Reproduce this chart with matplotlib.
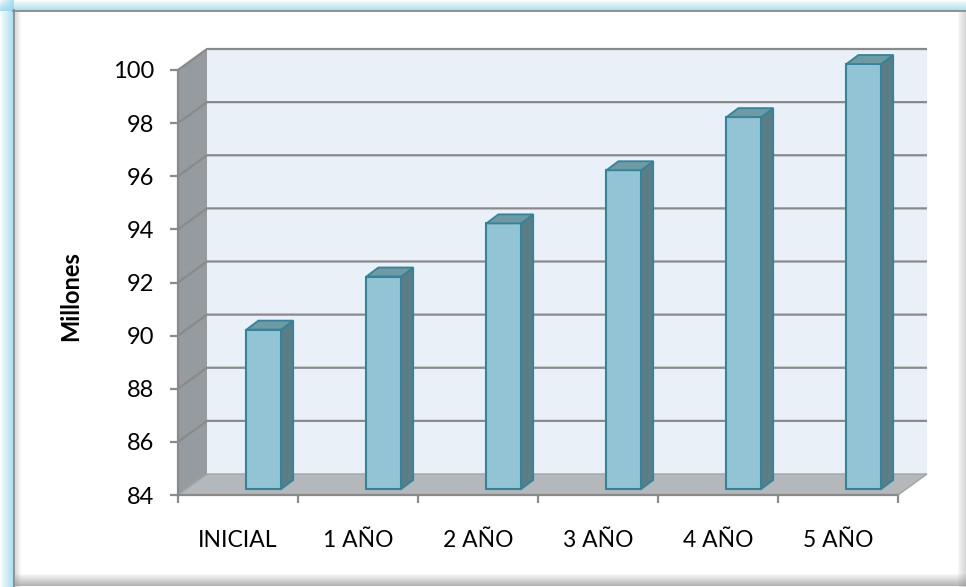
import matplotlib.pyplot as plt
from matplotlib.patches import Polygon
from matplotlib.lines import Line2D
import numpy as np

plt.rcParams['font.family'] = ['Lato', 'DejaVu Sans']

categories = ['INICIAL', '1 AÑO', '2 AÑO', '3 AÑO', '4 AÑO', '5 AÑO']
values = np.array([90, 92, 94, 96, 98, 100])
y_ticks = [84, 86, 88, 90, 92, 94, 96, 98, 100]
y_label = 'Millones'

W, H = 966, 587
fig = plt.figure(figsize=(W / 100, H / 100), dpi=100)
fig.patch.set_facecolor('white')


def hline(y, xa, xb, color, alpha=1.0, lw=0.75):
    fig.add_artist(Line2D([xa / W, xb / W], [1 - y / H, 1 - y / H], transform=fig.transFigure,
                          color=color, alpha=alpha, lw=lw, zorder=-5))


def vline(x, ya, yb, color, alpha=1.0, lw=0.75):
    fig.add_artist(Line2D([x / W, x / W], [1 - ya / H, 1 - yb / H], transform=fig.transFigure,
                          color=color, alpha=alpha, lw=lw, zorder=-5))


# blue glow round the frame (top and left), frame line, inner shadows
for k in range(10):
    hline(k + 0.5, 0, W, '#94daf0', 0.12 + 0.7 * k / 9)
for k in range(13):
    vline(k + 0.5, 0, H, '#94daf0', 0.12 + 0.7 * k / 12)
hline(10.5, 13, W, '#8a8a8a', lw=1.3)
vline(13.5, 10, H, '#8a8a8a', lw=1.3)
for k in range(6):
    vline(15 + k, 12, H, '#9a9a9a', 0.35 * (1 - k / 6))
for k in range(8):
    vline(W - 8 + k, 12, H, '#9a9a9a', 0.08 + 0.35 * k / 8)
for k in range(12):
    hline(H - 13 + k, 15, W, '#8f8f8f', 0.06 + 0.6 * k / 11)

ax = fig.add_axes([178 / W, 1 - 495 / H, 720 / W, 425 / H])
ax.set_xlim(-0.5, 5.5)
ax.set_ylim(84, 100)
ax.set_facecolor('none')

# depth of the walls and bars in data units
dx, dy = 29 / 120, 21 / (425 / 16)
bdx, bdy = 12 / 120, 9 / (425 / 16)
lift = 6 / (425 / 16)
x0, x1 = -0.5, 5.5
y0, y1 = 84, 100

# back wall, side wall, floor
ax.add_patch(Polygon([(x0 + dx, y0 + dy), (x1 + dx, y0 + dy), (x1 + dx, y1 + dy), (x0 + dx, y1 + dy)],
                     closed=True, facecolor='#e9f0f7', edgecolor='none', clip_on=False, zorder=1))
ax.add_patch(Polygon([(x0, y0), (x0 + dx, y0 + dy), (x0 + dx, y1 + dy), (x0, y1)],
                     closed=True, facecolor='#959b9e', edgecolor='none', clip_on=False, zorder=1))
ax.add_patch(Polygon([(x0, y0), (x1, y0), (x1 + dx, y0 + dy), (x0 + dx, y0 + dy)],
                     closed=True, facecolor='#b4b8bb', edgecolor='#a0a4a7', lw=1, clip_on=False, zorder=1))

for v in y_ticks[1:]:
    ax.plot([x0, x0 + dx, x1 + dx], [v, v + dy, v + dy], color='#8a8a8a', lw=1.6,
            clip_on=False, zorder=2, solid_capstyle='butt')

# bars (front face, then side and top faces)
xs = np.arange(len(categories)) + 0.07
bw = 0.29
ax.bar(xs, values - y0, width=bw, bottom=y0 + lift, align='edge',
       color='#93c4d5', edgecolor='#31849b', lw=1.5, zorder=4, clip_on=False)
for x, v in zip(xs, values):
    top = v + lift
    ax.add_patch(Polygon([(x + bw, y0 + lift), (x + bw + bdx, y0 + lift + bdy),
                          (x + bw + bdx, top + bdy), (x + bw, top)],
                         closed=True, facecolor='#5b7d86', edgecolor='#31849b', lw=1.3,
                         clip_on=False, zorder=4))
    ax.add_patch(Polygon([(x, top), (x + bw, top), (x + bw + bdx, top + bdy), (x + bdx, top + bdy)],
                         closed=True, facecolor='#6f99a3', edgecolor='#31849b', lw=1.3,
                         clip_on=False, zorder=4))

for s in ['top', 'right']:
    ax.spines[s].set_visible(False)
for s in ['left', 'bottom']:
    ax.spines[s].set_color('#8a8a8a')
    ax.spines[s].set_linewidth(1.6)
    ax.spines[s].set_zorder(3)

ax.set_yticks(y_ticks)
ax.set_yticklabels([str(t) for t in y_ticks])
ax.set_xticks(np.arange(-0.5, 6, 1))
ax.set_xticklabels([])
ax.set_xticks(np.arange(len(categories)), minor=True)
ax.set_xticklabels(categories, minor=True)
ax.tick_params(axis='x', which='major', length=6, width=1.6, color='#8a8a8a')
ax.tick_params(axis='x', which='minor', length=0, pad=25, labelsize=16.5)
ax.tick_params(axis='y', length=6, width=1.6, color='#8a8a8a', labelsize=17, pad=11)

fig.text(71 / W, 1 - 296 / H, y_label, rotation=90, fontsize=17, fontweight='bold',
         ha='center', va='center')

fig.savefig('out.png', dpi=100)
